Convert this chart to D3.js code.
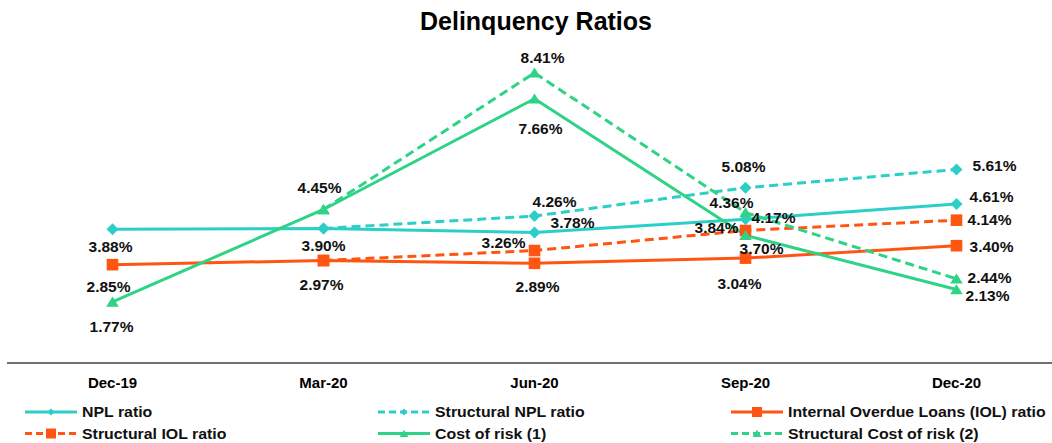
<!DOCTYPE html>
<html>
<head>
<meta charset="utf-8">
<script src="https://cdn.jsdelivr.net/npm/d3@7/dist/d3.min.js"></script>
<style>
html,body{margin:0;padding:0;background:#fff;}
svg{display:block;font-family:"Liberation Sans",Arial,sans-serif;}
</style>
</head>
<body>
<svg id="chart" width="1052" height="443"></svg>
<script>
// ---- data ----
const categories = ["Dec-19", "Mar-20", "Jun-20", "Sep-20", "Dec-20"];
const nplRatio        = [3.88, 3.90, 3.78, 4.17, 4.61];
const structuralNpl   = [null, 3.90, 4.26, 5.08, 5.61];
const iolRatio        = [2.85, 2.97, 2.89, 3.04, 3.40];
const structuralIol   = [null, 2.97, 3.26, 3.84, 4.14];
const costOfRisk      = [1.77, 4.45, 7.66, 3.70, 2.13];
const structuralCor   = [null, 4.45, 8.41, 4.36, 2.44];
const seriesNames = ["NPL ratio", "Structural NPL ratio", "Internal Overdue Loans (IOL) ratio",
                     "Structural IOL ratio", "Cost of risk (1)", "Structural Cost of risk  (2)"];

// which points carry a data label (structural series share their first point)
const showLabel = [
  [1,1,1,1,1],
  [0,0,1,1,1],
  [1,1,1,1,1],
  [0,0,1,1,1],
  [1,1,1,1,1],
  [0,0,1,1,1]
];
// label offsets (dx, dy) from marker, in px
const labelOffsets = [
  [[-2,17],[0,17],[38,-10],[28,-2],[35,-7]],
  [[0,0],[0,0],[20,-14],[-2,-21],[38,-4]],
  [[-4,22],[-2,24],[3,23],[-6,25],[35,1]],
  [[0,0],[0,0],[-31,-8],[-29,-3],[33,-1]],
  [[-1,25],[-4,-22],[6,30],[16,13],[31,6]],
  [[0,0],[0,0],[8,-15],[-14,-10],[33,-1]]
];

const cyan = "#2ccfc8", orange = "#ff5512", green = "#2ed385";
const seriesStyle = [
  {color: cyan,   dash: null,  marker: "diamond"},
  {color: cyan,   dash: "9,5", marker: "diamond"},
  {color: orange, dash: null,  marker: "square"},
  {color: orange, dash: "9,5", marker: "square"},
  {color: green,  dash: null,  marker: "triangle"},
  {color: green,  dash: "9,5", marker: "triangle"}
];
const allSeries = [nplRatio, structuralNpl, iolRatio, structuralIol, costOfRisk, structuralCor];

const svg = d3.select("#chart");

const x = d3.scaleBand().domain(categories).range([7, 1062]);
const y = d3.scaleLinear().domain([0, 9]).range([363, 52.5]);
const cx = c => x(c) + x.bandwidth() / 2;

function markerPath(type, r) {
  if (type === "diamond") return `M0,${-r}L${r},0L0,${r}L${-r},0Z`;
  if (type === "square") return `M${-r},${-r}H${r}V${r}H${-r}Z`;
  return `M0,${-r*0.85}L${r},${r*0.75}L${-r},${r*0.75}Z`;
}
const markerSize = {diamond: 6, square: 5.8, triangle: 6.3};

// title
svg.append("text").attr("x", 536).attr("y", 30).attr("text-anchor", "middle")
  .attr("font-size", "25px").attr("font-weight", "bold").attr("fill", "#000")
  .text("Delinquency Ratios");

// axis
const xAxis = d3.axisBottom(x).tickSize(0).tickPadding(0);
const axisG = svg.append("g").attr("transform", `translate(0,${y(0)})`).call(xAxis);
axisG.select(".domain").attr("stroke", "#404040").attr("stroke-width", 1.5)
  .attr("d", `M7,0H1052`);
axisG.selectAll(".tick text").attr("font-size", "15px").attr("font-weight", "bold")
  .attr("font-family", "Liberation Sans, Arial, sans-serif").attr("fill", "#000")
  .attr("dy", "0").attr("y", 25).attr("dominant-baseline", "auto");

// lines
const line = d3.line().defined(d => d.v != null).x(d => cx(d.c)).y(d => y(d.v));
const plotOrder = [0, 1, 2, 3, 4, 5];
plotOrder.forEach(i => {
  const st = seriesStyle[i];
  const pts = categories.map((c, j) => ({c, v: allSeries[i][j]}));
  svg.append("path").datum(pts).attr("d", line).attr("fill", "none")
    .attr("stroke", st.color).attr("stroke-width", 3)
    .attr("stroke-dasharray", st.dash).attr("stroke-linejoin", "round");
});
plotOrder.forEach(i => {
  const st = seriesStyle[i];
  const pts = categories.map((c, j) => ({c, v: allSeries[i][j]})).filter(d => d.v != null);
  svg.append("g").selectAll("path").data(pts).join("path")
    .attr("transform", d => `translate(${cx(d.c)},${y(d.v)})`)
    .attr("d", markerPath(st.marker, markerSize[st.marker]))
    .attr("fill", st.color);
});

// data labels
plotOrder.forEach(i => {
  const pts = categories.map((c, j) => ({c, j, v: allSeries[i][j]}))
    .filter(d => d.v != null && showLabel[i][d.j]);
  svg.append("g").selectAll("text").data(pts).join("text")
    .attr("x", d => cx(d.c) + labelOffsets[i][d.j][0])
    .attr("y", d => y(d.v) + labelOffsets[i][d.j][1])
    .attr("dy", "0.35em").attr("text-anchor", "middle")
    .attr("font-size", "15.5px").attr("font-weight", "bold").attr("fill", "#111")
    .text(d => d.v.toFixed(2) + "%");
});

// legend
const legendCols = [25, 378, 731];
const legendRows = [412, 433.5];
const legendPos = [[0,0],[1,0],[2,0],[0,1],[1,1],[2,1]];
seriesNames.forEach((name, i) => {
  const [ci, ri] = legendPos[i];
  const st = seriesStyle[i];
  const g = svg.append("g").attr("transform", `translate(${legendCols[ci]},${legendRows[ri]})`);
  g.append("line").attr("x1", 0).attr("x2", 52).attr("y1", 0).attr("y2", 0)
    .attr("stroke", st.color).attr("stroke-width", 3).attr("stroke-dasharray", st.dash ? "7,4" : null);
  const ms = st.marker === "diamond" ? 3.5 : (st.marker === "square" ? 5 : 4.5);
  g.append("path").attr("transform", "translate(26,0)").attr("d", markerPath(st.marker, ms)).attr("fill", st.color);
  g.append("text").attr("x", 57).attr("y", 0).attr("dy", "0.35em")
    .attr("font-size", "15px").attr("font-weight", "bold").attr("fill", "#111")
    .attr("transform", "scale(1.06,1)").attr("x", 57 / 1.06)
    .text(name);
});
</script>
</body>
</html>
